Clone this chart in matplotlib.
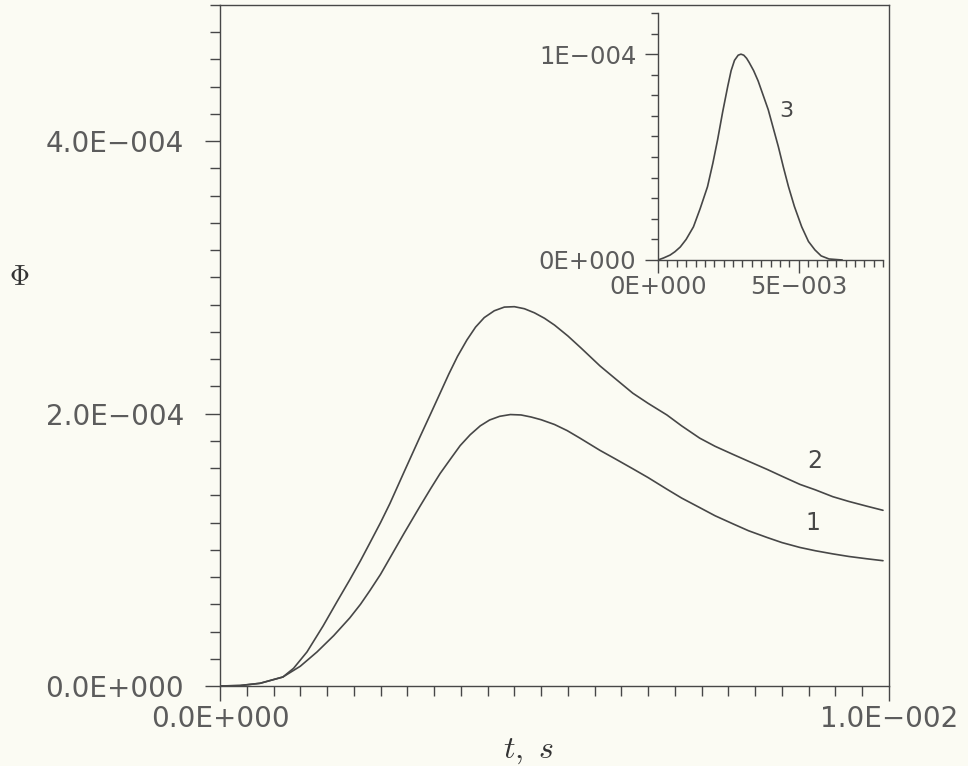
import numpy as np
import matplotlib
matplotlib.use("Agg")
import matplotlib.pyplot as plt
from matplotlib.ticker import FixedLocator, MultipleLocator

plt.rcParams['mathtext.fontset'] = 'cm'
plt.rcParams['font.family'] = ['DejaVu Sans']

# ---- data (t in 1e-3 s, Phi in 1e-4) ----
t_curve2 = [0.0, 0.3, 0.6, 0.94, 1.1, 1.3, 1.54, 1.75, 1.94, 2.1, 2.24, 2.4, 2.54, 2.75, 2.99,
            3.15, 3.29, 3.42, 3.55, 3.69, 3.82, 3.95, 4.1, 4.25, 4.40, 4.55, 4.70, 4.85, 5.0,
            5.2, 5.4, 5.68, 5.9, 6.17, 6.4, 6.68, 6.9, 7.17, 7.4, 7.67, 7.9, 8.18, 8.4, 8.67,
            8.9, 9.16, 9.4, 9.67, 9.91]
phi_curve2 = [0.0, 0.003, 0.02, 0.066, 0.13, 0.25, 0.44, 0.62, 0.78, 0.92, 1.05, 1.20, 1.34,
              1.57, 1.83, 2.0, 2.15, 2.29, 2.42, 2.54, 2.635, 2.705, 2.755, 2.782, 2.785, 2.77,
              2.74, 2.70, 2.65, 2.57, 2.48, 2.35, 2.26, 2.15, 2.075, 1.99, 1.91, 1.82, 1.76,
              1.70, 1.65, 1.59, 1.54, 1.48, 1.44, 1.39, 1.355, 1.32, 1.29]

t_curve1 = [0.0, 0.3, 0.6, 0.94, 1.2, 1.45, 1.7, 1.94, 2.1, 2.24, 2.4, 2.54, 2.75, 2.99, 3.15,
            3.29, 3.45, 3.59, 3.74, 3.89, 4.03, 4.18, 4.34, 4.50, 4.65, 4.8, 5.0, 5.19, 5.38,
            5.68, 5.9, 6.17, 6.4, 6.68, 6.9, 7.17, 7.4, 7.67, 7.9, 8.18, 8.4, 8.67, 8.9, 9.16,
            9.4, 9.67, 9.91]
phi_curve1 = [0.0, 0.004, 0.02, 0.066, 0.145, 0.25, 0.37, 0.50, 0.60, 0.70, 0.82, 0.94, 1.12,
              1.32, 1.45, 1.56, 1.67, 1.765, 1.845, 1.91, 1.953, 1.98, 1.993, 1.99, 1.975, 1.955,
              1.92, 1.875, 1.82, 1.73, 1.67, 1.595, 1.53, 1.445, 1.38, 1.31, 1.25, 1.19, 1.14,
              1.09, 1.053, 1.017, 0.993, 0.97, 0.951, 0.934, 0.92]

t_curve3 = [0.0, 0.2, 0.43, 0.6, 0.79, 1.0, 1.26, 1.5, 1.76, 1.95, 2.12, 2.3, 2.48, 2.6, 2.72,
            2.85, 2.95, 3.05, 3.15, 3.24, 3.4, 3.56, 3.74, 3.92, 4.1, 4.28, 4.46, 4.64, 4.85,
            5.11, 5.35, 5.58, 5.8, 6.08, 6.55]
phi_curve3 = [0.0, 0.01, 0.024, 0.04, 0.063, 0.10, 0.161, 0.25, 0.356, 0.47, 0.585, 0.72,
              0.844, 0.92, 0.97, 0.995, 1.0, 0.995, 0.98, 0.96, 0.92, 0.87, 0.80, 0.73, 0.64,
              0.55, 0.45, 0.356, 0.26, 0.161, 0.09, 0.049, 0.02, 0.005, 0.0]

main_xticks = [0.0, 0.01]
main_xticklabels = ["0.0E+000", "1.0E\u2212002"]
main_yticks = [0.0, 2e-4, 4e-4]
main_yticklabels = ["0.0E+000", "2.0E\u2212004", "4.0E\u2212004"]
inset_xticks = [0.0, 5e-3]
inset_xticklabels = ["0E+000", "5E\u2212003"]
inset_yticks = [0.0, 1e-4]
inset_yticklabels = ["0E+000", "1E\u2212004"]

curve_labels = ["1", "2", "3"]

# ---- styling ----
bg = '#fbfbf3'
ink = '#474747'
txt = '#5c5c5c'

fig = plt.figure(figsize=(9.68, 7.66), dpi=100, facecolor=bg)

W, H = 968, 766
def rect(l, r, b, t):
    return [l / W, 1 - b / H, (r - l) / W, (b - t) / H]

line_kw = dict(color=ink, lw=1.2, solid_joinstyle='round', solid_capstyle='round')

ax = fig.add_axes(rect(220, 889, 686, 5))
ax.set_facecolor(bg)
ax.plot(np.array(t_curve2) * 1e-3, np.array(phi_curve2) * 1e-4, **line_kw)
ax.plot(np.array(t_curve1) * 1e-3, np.array(phi_curve1) * 1e-4, **line_kw)
ax.set_xlim(0, 0.01)
ax.set_ylim(0, 5e-4)
ax.xaxis.set_major_locator(FixedLocator(main_xticks))
ax.set_xticklabels(main_xticklabels)
ax.xaxis.set_minor_locator(MultipleLocator(4e-4))
ax.yaxis.set_major_locator(FixedLocator(main_yticks))
ax.set_yticklabels(main_yticklabels)
ax.yaxis.set_minor_locator(MultipleLocator(2e-5))
for s in ax.spines.values():
    s.set_color(ink)
    s.set_linewidth(1.0)
ax.tick_params(which='both', direction='out', color=ink, width=1.0, labelcolor=txt)
ax.tick_params(which='major', length=11, labelsize=20)
ax.tick_params(which='minor', length=7)
ax.tick_params(axis='y', which='major', pad=15)
ax.tick_params(axis='x', which='major', pad=3)

ax.text(0.008864, 1.197e-4, curve_labels[0], fontsize=17, color=ink, ha='center', va='center')
ax.text(0.008894, 1.65e-4, curve_labels[1], fontsize=17, color=ink, ha='center', va='center')

# inset
ins = fig.add_axes(rect(658, 883, 260, 13))
ins.set_facecolor('none')
ins.plot(np.array(t_curve3) * 1e-3, np.array(phi_curve3) * 1e-4, **line_kw)
ins.set_xlim(0, 8e-3)
ins.set_ylim(0, 1.2e-4)
ins.spines['top'].set_visible(False)
ins.spines['right'].set_visible(False)
for s in ['left', 'bottom']:
    ins.spines[s].set_color(ink)
    ins.spines[s].set_linewidth(1.0)
ins.xaxis.set_major_locator(FixedLocator(inset_xticks))
ins.set_xticklabels(inset_xticklabels)
ins.xaxis.set_minor_locator(MultipleLocator(1e-3 / 3))
ins.yaxis.set_major_locator(FixedLocator(inset_yticks))
ins.set_yticklabels(inset_yticklabels)
ins.yaxis.set_minor_locator(MultipleLocator(1e-5))
ins.tick_params(which='both', direction='out', color=ink, width=1.0, labelcolor=txt)
ins.tick_params(which='major', length=9.5, labelsize=17.5)
ins.tick_params(which='minor', length=5)
ins.tick_params(axis='y', which='major', pad=6)
ins.tick_params(axis='x', which='major', pad=1)
ins.text(4.57e-3, 7.22e-5, curve_labels[2], fontsize=16, color=ink, ha='center', va='center')

fig.text(19 / W, 1 - 277 / H, r'$\Phi$', fontsize=20, color='#333333', ha='center', va='center')
fig.text(528 / W, 1 - 750 / H, r'$t,\ s$', fontsize=23, color='#333333', ha='center', va='center')

fig.savefig('out.png', dpi=100, facecolor=bg)
